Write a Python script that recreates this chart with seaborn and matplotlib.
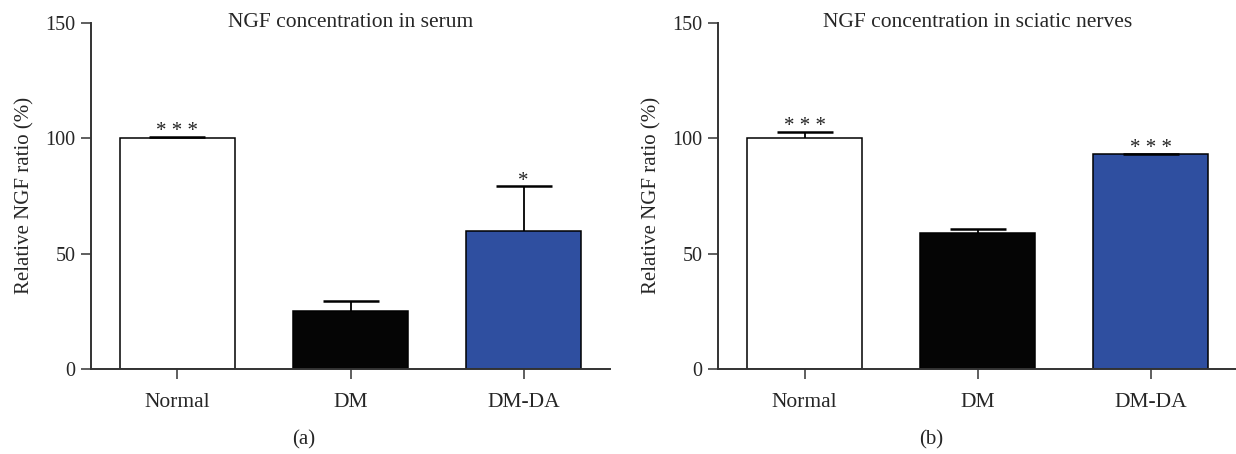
import seaborn as sns
import matplotlib.pyplot as plt
import numpy as np
import pandas as pd

# data
groups = ["Normal", "DM", "DM-DA"]
serum_mean = [100.0, 25.1, 59.7]
serum_err = [0.7, 4.3, 19.4]
serum_sig = ["* * *", "", "*"]
nerve_mean = [100.0, 59.0, 93.0]
nerve_err = [2.7, 1.6, 0.3]
nerve_sig = ["* * *", "", "* * *"]

titles = ["NGF concentration in serum", "NGF concentration in sciatic nerves"]
panel_labels = ["(a)", "(b)"]
colors = ["#ffffff", "#050505", "#2f4fa0"]

sns.set_style("ticks")
plt.rcParams["font.family"] = ["Liberation Serif", "DejaVu Serif"]
plt.rcParams["axes.linewidth"] = 1.4
plt.rcParams["axes.edgecolor"] = "#333333"

fig = plt.figure(figsize=(12.36, 4.54), dpi=100)
ax1 = fig.add_axes([0.0736, 0.1872, 0.42, 0.7628])
ax2 = fig.add_axes([0.5809, 0.1872, 0.42, 0.7628])

panels = [
    (ax1, serum_mean, serum_err, serum_sig),
    (ax2, nerve_mean, nerve_err, nerve_sig),
]

for i, (ax, mean, err, sig) in enumerate(panels):
    df = pd.DataFrame({"group": groups, "value": mean})
    sns.barplot(data=df, x="group", y="value", hue="group", palette=colors,
                legend=False, width=0.663, edgecolor="black", linewidth=1.1,
                saturation=1, errorbar=None, ax=ax)
    # only the upper half of the error bars is drawn
    eb = ax.errorbar(np.arange(len(groups)), mean,
                     yerr=[np.zeros(len(err)), err], fmt="none",
                     ecolor="black", elinewidth=1.3, capsize=20, capthick=1.8,
                     zorder=1)
    eb[1][0].set_visible(False)  # hide lower caps
    for x, (m, e, s) in enumerate(zip(mean, err, sig)):
        if s:
            ax.text(x, m + e + 2.3, s, ha="center", va="center",
                    fontsize=15, color="#222222")

    ax.set_xlim(-0.5, 2.5)
    ax.set_ylim(0, 150)
    ax.set_yticks([0, 50, 100, 150])
    ax.set_xlabel("")
    ax.set_ylabel("Relative NGF ratio (%)", fontsize=15, labelpad=8)
    ax.tick_params(axis="both", width=1.1, color="#333333")
    ax.tick_params(axis="y", length=7, pad=4, labelsize=14.5)
    ax.tick_params(axis="x", length=7, pad=10, labelsize=15.5)
    sns.despine(ax=ax)
    ax.text(0.5, 1.0, titles[i], transform=ax.transAxes, ha="center",
            va="center", fontsize=15.5)
    ax.text(0.41, -0.205, panel_labels[i], transform=ax.transAxes,
            ha="center", va="center", fontsize=15)

fig.savefig("out.png", dpi=100)
